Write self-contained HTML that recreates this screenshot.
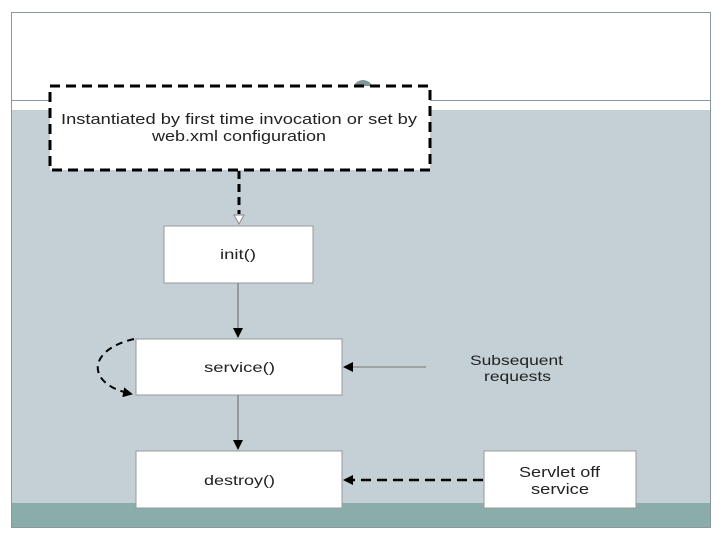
<!DOCTYPE html>
<html><head><style>
body{margin:0;width:720px;height:540px;background:#fff;position:relative;overflow:hidden;font-family:"Liberation Sans",sans-serif}
</style></head><body>
<svg width="720" height="540" style="position:absolute;left:0;top:0" font-family="Liberation Sans, sans-serif">
<defs>
<marker id="a" markerWidth="10" markerHeight="10" refX="9" refY="5" orient="auto" markerUnits="userSpaceOnUse"><path d="M0,0 L10,5 L0,10z" fill="#000"/></marker>
</defs>
<rect x="11.5" y="12.5" width="699" height="515" fill="#fff" stroke="#8a979c"/>
<rect x="12" y="110" width="698" height="393" fill="#c5d0d6"/>
<rect x="12" y="503" width="698" height="24" fill="#8aadaa"/>
<line x1="12" y1="100.5" x2="710" y2="100.5" stroke="#8a979c"/>
<circle cx="363" cy="90" r="10" fill="#7f9896"/>
<rect x="50" y="86" width="380" height="84" fill="#fff" stroke="#000" stroke-width="3" stroke-dasharray="10,6"/>
<g fill="#222" font-size="15">
<text x="61" y="124" textLength="356" lengthAdjust="spacingAndGlyphs">Instantiated by first time invocation or set by</text>
<text x="152" y="141" textLength="174" lengthAdjust="spacingAndGlyphs">web.xml configuration</text>
</g>
<line x1="239" y1="171" x2="239" y2="214" stroke="#000" stroke-width="3" stroke-dasharray="8,5"/>
<path d="M234,215 L244,215 L239,224z" fill="#fff" stroke="#888"/>
<rect x="164" y="226" width="149" height="57" fill="#fff" stroke="#999"/>
<g fill="#222" font-size="14">
<text x="220" y="259" textLength="36" lengthAdjust="spacingAndGlyphs">init()</text>
</g>
<line x1="238" y1="283" x2="238" y2="337" stroke="#888" stroke-width="1.5" marker-end="url(#a)"/>
<rect x="136" y="339" width="206" height="56" fill="#fff" stroke="#999"/>
<g fill="#222" font-size="14">
<text x="204" y="372" textLength="71" lengthAdjust="spacingAndGlyphs">service()</text>
</g>
<line x1="238" y1="395" x2="238" y2="449" stroke="#888" stroke-width="1.5" marker-end="url(#a)"/>
<rect x="136" y="451" width="206" height="57" fill="#fff" stroke="#999"/>
<g fill="#222" font-size="14">
<text x="204" y="485" textLength="71" lengthAdjust="spacingAndGlyphs">destroy()</text>
</g>
<path d="M134,339 C86,350 86,385 132,394" fill="none" stroke="#000" stroke-width="2" stroke-dasharray="7,5" marker-end="url(#a)"/>
<line x1="426" y1="367" x2="344" y2="367" stroke="#777" stroke-width="1" marker-end="url(#a)"/>
<g fill="#222" font-size="14">
<text x="470" y="365" textLength="93" lengthAdjust="spacingAndGlyphs">Subsequent</text>
<text x="484" y="381" textLength="67" lengthAdjust="spacingAndGlyphs">requests</text>
</g>
<rect x="484" y="451" width="152" height="57" fill="#fff" stroke="#999"/>
<g fill="#222" font-size="15">
<text x="519" y="477" textLength="81" lengthAdjust="spacingAndGlyphs">Servlet off</text>
<text x="531" y="494" textLength="58" lengthAdjust="spacingAndGlyphs">service</text>
</g>
<line x1="483" y1="480" x2="344" y2="480" stroke="#000" stroke-width="2.5" stroke-dasharray="10,6" marker-end="url(#a)"/>
</svg>
</body></html>
